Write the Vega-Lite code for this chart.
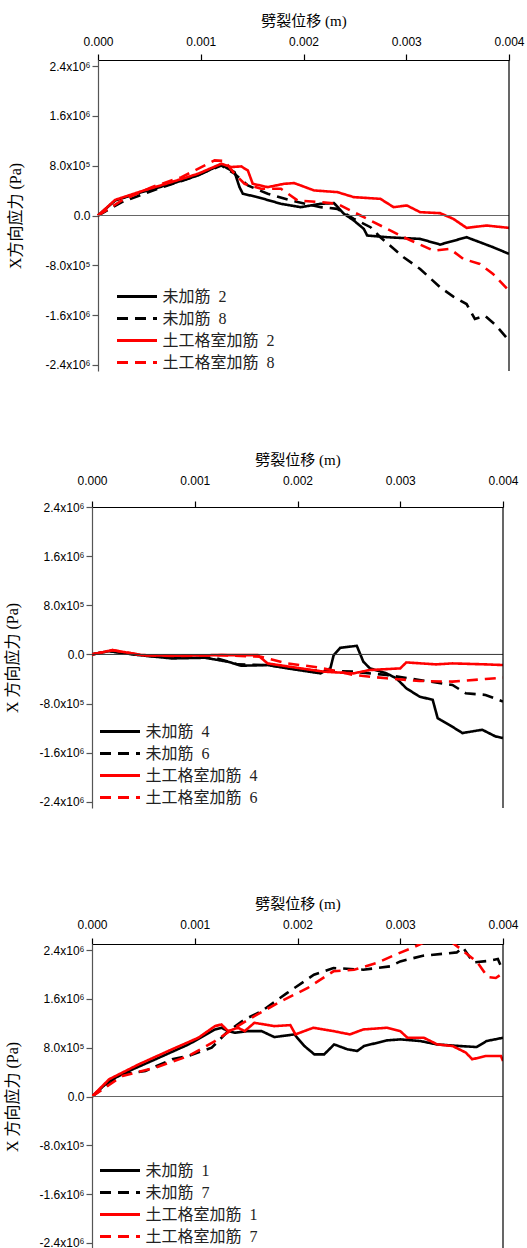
{
  "$schema": "https://vega.github.io/schema/vega-lite/v6.json",
  "background": "white",
  "padding": {"left": 4, "top": 13, "right": 0, "bottom": 0},
  "spacing": 136,
  "bounds": "flush",
  "config": {
    "view": {"stroke": null},
    "axis": {"grid": false, "labelFont": "Liberation Sans", "labelFontSize": 12, "labelColor": "#000", "titleFont": "'Liberation Serif', 'Noto Sans CJK SC'", "titleFontWeight": "normal", "titleFontSize": 15, "titleColor": "#000", "domainColor": "#000", "tickColor": "#000", "tickSize": 6, "domainWidth": 1.2, "tickWidth": 1.2},
    "legend": {"labelFont": "'Liberation Serif', 'Noto Sans CJK SC'", "labelFontSize": 16, "labelColor": "#222", "symbolType": "M-2,0H2", "symbolSize": 400, "symbolStrokeWidth": 3, "symbolOffset": 8.5, "padding": 0, "labelOffset": 14, "rowPadding": 2, "title": null, "labelLimit": 300}
  },
  "datasets": {
    "p1": [
      {"s":"未加筋 2","x":0,"y":0},{"s":"未加筋 2","x":0.000168,"y":242000},{"s":"未加筋 2","x":0.000426,"y":376000},{"s":"未加筋 2","x":0.000716,"y":510000},{"s":"未加筋 2","x":0.000974,"y":644000},{"s":"未加筋 2","x":0.0012,"y":821000},{"s":"未加筋 2","x":0.001265,"y":752000},{"s":"未加筋 2","x":0.001329,"y":698000},{"s":"未加筋 2","x":0.001377,"y":456000},{"s":"未加筋 2","x":0.00141,"y":349000},{"s":"未加筋 2","x":0.001555,"y":295000},{"s":"未加筋 2","x":0.00178,"y":188000},{"s":"未加筋 2","x":0.001974,"y":134000},{"s":"未加筋 2","x":0.002168,"y":188000},{"s":"未加筋 2","x":0.002297,"y":199000},{"s":"未加筋 2","x":0.002394,"y":27000},{"s":"未加筋 2","x":0.00249,"y":-81000},{"s":"未加筋 2","x":0.002587,"y":-215000},{"s":"未加筋 2","x":0.00262,"y":-322000},{"s":"未加筋 2","x":0.002813,"y":-349000},{"s":"未加筋 2","x":0.003135,"y":-376000},{"s":"未加筋 2","x":0.003329,"y":-467000},{"s":"未加筋 2","x":0.003587,"y":-349000},{"s":"未加筋 2","x":0.003845,"y":-510000},{"s":"未加筋 2","x":0.004,"y":-617000},
      {"s":"未加筋 8","x":0,"y":0},{"s":"未加筋 8","x":0.000232,"y":215000},{"s":"未加筋 8","x":0.000555,"y":413000},{"s":"未加筋 8","x":0.000877,"y":591000},{"s":"未加筋 8","x":0.0012,"y":805000},{"s":"未加筋 8","x":0.001329,"y":671000},{"s":"未加筋 8","x":0.001458,"y":483000},{"s":"未加筋 8","x":0.001652,"y":349000},{"s":"未加筋 8","x":0.001877,"y":242000},{"s":"未加筋 8","x":0.002168,"y":134000},{"s":"未加筋 8","x":0.002329,"y":107000},{"s":"未加筋 8","x":0.00249,"y":-54000},{"s":"未加筋 8","x":0.002652,"y":-188000},{"s":"未加筋 8","x":0.002748,"y":-349000},{"s":"未加筋 8","x":0.002974,"y":-671000},{"s":"未加筋 8","x":0.003135,"y":-859000},{"s":"未加筋 8","x":0.003329,"y":-1154000},{"s":"未加筋 8","x":0.003458,"y":-1305000},{"s":"未加筋 8","x":0.003587,"y":-1423000},{"s":"未加筋 8","x":0.003668,"y":-1664000},{"s":"未加筋 8","x":0.003765,"y":-1611000},{"s":"未加筋 8","x":0.003877,"y":-1772000},{"s":"未加筋 8","x":0.004,"y":-2013000},
      {"s":"土工格室加筋 2","x":0,"y":0},{"s":"土工格室加筋 2","x":0.000168,"y":252000},{"s":"土工格室加筋 2","x":0.000426,"y":392000},{"s":"土工格室加筋 2","x":0.000716,"y":537000},{"s":"土工格室加筋 2","x":0.000974,"y":671000},{"s":"土工格室加筋 2","x":0.0012,"y":832000},{"s":"土工格室加筋 2","x":0.001297,"y":779000},{"s":"土工格室加筋 2","x":0.001394,"y":789000},{"s":"土工格室加筋 2","x":0.001458,"y":725000},{"s":"土工格室加筋 2","x":0.001506,"y":510000},{"s":"土工格室加筋 2","x":0.001652,"y":456000},{"s":"土工格室加筋 2","x":0.001813,"y":510000},{"s":"土工格室加筋 2","x":0.00191,"y":521000},{"s":"土工格室加筋 2","x":0.002103,"y":403000},{"s":"土工格室加筋 2","x":0.002329,"y":376000},{"s":"土工格室加筋 2","x":0.00249,"y":295000},{"s":"土工格室加筋 2","x":0.002748,"y":268000},{"s":"土工格室加筋 2","x":0.002877,"y":134000},{"s":"土工格室加筋 2","x":0.003006,"y":161000},{"s":"土工格室加筋 2","x":0.003135,"y":54000},{"s":"土工格室加筋 2","x":0.003329,"y":38000},{"s":"土工格室加筋 2","x":0.003458,"y":-54000},{"s":"土工格室加筋 2","x":0.003587,"y":-199000},{"s":"土工格室加筋 2","x":0.003781,"y":-161000},{"s":"土工格室加筋 2","x":0.004,"y":-199000},
      {"s":"土工格室加筋 8","x":0,"y":0},{"s":"土工格室加筋 8","x":0.000232,"y":242000},{"s":"土工格室加筋 8","x":0.000523,"y":456000},{"s":"土工格室加筋 8","x":0.000813,"y":617000},{"s":"土工格室加筋 8","x":0.001135,"y":886000},{"s":"土工格室加筋 8","x":0.001232,"y":875000},{"s":"土工格室加筋 8","x":0.001329,"y":671000},{"s":"土工格室加筋 8","x":0.001426,"y":510000},{"s":"土工格室加筋 8","x":0.001587,"y":430000},{"s":"土工格室加筋 8","x":0.00178,"y":430000},{"s":"土工格室加筋 8","x":0.001942,"y":242000},{"s":"土工格室加筋 8","x":0.002168,"y":215000},{"s":"土工格室加筋 8","x":0.002329,"y":188000},{"s":"土工格室加筋 8","x":0.002555,"y":0},{"s":"土工格室加筋 8","x":0.002781,"y":-188000},{"s":"土工格室加筋 8","x":0.002974,"y":-349000},{"s":"土工格室加筋 8","x":0.003265,"y":-564000},{"s":"土工格室加筋 8","x":0.003426,"y":-537000},{"s":"土工格室加筋 8","x":0.003555,"y":-698000},{"s":"土工格室加筋 8","x":0.003716,"y":-779000},{"s":"土工格室加筋 8","x":0.003845,"y":-940000},{"s":"土工格室加筋 8","x":0.004,"y":-1208000}
    ],
    "p2": [
      {"s":"未加筋 4","x":0,"y":0},{"s":"未加筋 4","x":0.000167,"y":54000},{"s":"未加筋 4","x":0.000456,"y":-11000},{"s":"未加筋 4","x":0.000777,"y":-65000},{"s":"未加筋 4","x":0.001099,"y":-54000},{"s":"未加筋 4","x":0.001324,"y":-119000},{"s":"未加筋 4","x":0.001452,"y":-184000},{"s":"未加筋 4","x":0.001709,"y":-173000},{"s":"未加筋 4","x":0.001902,"y":-227000},{"s":"未加筋 4","x":0.002223,"y":-308000},{"s":"未加筋 4","x":0.00232,"y":-227000},{"s":"未加筋 4","x":0.002352,"y":-11000},{"s":"未加筋 4","x":0.002416,"y":108000},{"s":"未加筋 4","x":0.002577,"y":140000},{"s":"未加筋 4","x":0.002641,"y":-119000},{"s":"未加筋 4","x":0.002705,"y":-227000},{"s":"未加筋 4","x":0.002866,"y":-308000},{"s":"未加筋 4","x":0.002962,"y":-389000},{"s":"未加筋 4","x":0.003059,"y":-551000},{"s":"未加筋 4","x":0.003187,"y":-686000},{"s":"未加筋 4","x":0.003316,"y":-740000},{"s":"未加筋 4","x":0.003364,"y":-1037000},{"s":"未加筋 4","x":0.003476,"y":-1145000},{"s":"未加筋 4","x":0.003605,"y":-1280000},{"s":"未加筋 4","x":0.003798,"y":-1226000},{"s":"未加筋 4","x":0.003926,"y":-1334000},{"s":"未加筋 4","x":0.004,"y":-1361000},
      {"s":"未加筋 6","x":0,"y":0},{"s":"未加筋 6","x":0.000167,"y":54000},{"s":"未加筋 6","x":0.000456,"y":-11000},{"s":"未加筋 6","x":0.000777,"y":-54000},{"s":"未加筋 6","x":0.001195,"y":-54000},{"s":"未加筋 6","x":0.001421,"y":-162000},{"s":"未加筋 6","x":0.001709,"y":-173000},{"s":"未加筋 6","x":0.002063,"y":-254000},{"s":"未加筋 6","x":0.002545,"y":-281000},{"s":"未加筋 6","x":0.002866,"y":-335000},{"s":"未加筋 6","x":0.003187,"y":-416000},{"s":"未加筋 6","x":0.003508,"y":-497000},{"s":"未加筋 6","x":0.003637,"y":-632000},{"s":"未加筋 6","x":0.00383,"y":-659000},{"s":"未加筋 6","x":0.004,"y":-767000},
      {"s":"土工格室加筋 4","x":0,"y":0},{"s":"土工格室加筋 4","x":0.000199,"y":70000},{"s":"土工格室加筋 4","x":0.000488,"y":-11000},{"s":"土工格室加筋 4","x":0.00081,"y":-22000},{"s":"土工格室加筋 4","x":0.001195,"y":-11000},{"s":"土工格室加筋 4","x":0.001613,"y":-11000},{"s":"土工格室加筋 4","x":0.001709,"y":-146000},{"s":"土工格室加筋 4","x":0.002031,"y":-227000},{"s":"土工格室加筋 4","x":0.00226,"y":-281000},{"s":"土工格室加筋 4","x":0.002545,"y":-308000},{"s":"土工格室加筋 4","x":0.002705,"y":-254000},{"s":"土工格室加筋 4","x":0.003,"y":-227000},{"s":"土工格室加筋 4","x":0.003059,"y":-130000},{"s":"土工格室加筋 4","x":0.003348,"y":-162000},{"s":"土工格室加筋 4","x":0.003508,"y":-146000},{"s":"土工格室加筋 4","x":0.00383,"y":-162000},{"s":"土工格室加筋 4","x":0.004,"y":-173000},
      {"s":"土工格室加筋 6","x":0,"y":0},{"s":"土工格室加筋 6","x":0.000199,"y":70000},{"s":"土工格室加筋 6","x":0.000488,"y":-11000},{"s":"土工格室加筋 6","x":0.000842,"y":-27000},{"s":"土工格室加筋 6","x":0.00126,"y":-11000},{"s":"土工格室加筋 6","x":0.001645,"y":-38000},{"s":"土工格室加筋 6","x":0.001902,"y":-146000},{"s":"土工格室加筋 6","x":0.002223,"y":-216000},{"s":"土工格室加筋 6","x":0.002545,"y":-335000},{"s":"土工格室加筋 6","x":0.002866,"y":-389000},{"s":"土工格室加筋 6","x":0.003187,"y":-432000},{"s":"土工格室加筋 6","x":0.003508,"y":-443000},{"s":"土工格室加筋 6","x":0.00383,"y":-400000},{"s":"土工格室加筋 6","x":0.004,"y":-378000}
    ],
    "p3": [
      {"s":"未加筋 1","x":0,"y":0},{"s":"未加筋 1","x":0.000167,"y":256000},{"s":"未加筋 1","x":0.00036,"y":419000},{"s":"未加筋 1","x":0.000617,"y":610000},{"s":"未加筋 1","x":0.00094,"y":854000},{"s":"未加筋 1","x":0.001197,"y":1099000},{"s":"未加筋 1","x":0.00126,"y":1127000},{"s":"未加筋 1","x":0.001325,"y":1072000},{"s":"未加筋 1","x":0.00139,"y":1045000},{"s":"未加筋 1","x":0.001518,"y":1072000},{"s":"未加筋 1","x":0.00165,"y":1072000},{"s":"未加筋 1","x":0.001775,"y":974000},{"s":"未加筋 1","x":0.00197,"y":1018000},{"s":"未加筋 1","x":0.002067,"y":827000},{"s":"未加筋 1","x":0.002164,"y":691000},{"s":"未加筋 1","x":0.00226,"y":691000},{"s":"未加筋 1","x":0.002357,"y":854000},{"s":"未加筋 1","x":0.002486,"y":773000},{"s":"未加筋 1","x":0.002582,"y":746000},{"s":"未加筋 1","x":0.002647,"y":827000},{"s":"未加筋 1","x":0.00287,"y":920000},{"s":"未加筋 1","x":0.003,"y":936000},{"s":"未加筋 1","x":0.003196,"y":909000},{"s":"未加筋 1","x":0.003357,"y":854000},{"s":"未加筋 1","x":0.003582,"y":827000},{"s":"未加筋 1","x":0.003743,"y":811000},{"s":"未加筋 1","x":0.00384,"y":909000},{"s":"未加筋 1","x":0.004,"y":963000},
      {"s":"未加筋 7","x":0,"y":0},{"s":"未加筋 7","x":0.000296,"y":365000},{"s":"未加筋 7","x":0.00052,"y":419000},{"s":"未加筋 7","x":0.00078,"y":610000},{"s":"未加筋 7","x":0.00094,"y":664000},{"s":"未加筋 7","x":0.001165,"y":800000},{"s":"未加筋 7","x":0.001325,"y":1072000},{"s":"未加筋 7","x":0.001486,"y":1263000},{"s":"未加筋 7","x":0.00165,"y":1399000},{"s":"未加筋 7","x":0.0019,"y":1698000},{"s":"未加筋 7","x":0.00216,"y":1997000},{"s":"未加筋 7","x":0.00235,"y":2106000},{"s":"未加筋 7","x":0.00264,"y":2079000},{"s":"未加筋 7","x":0.0029,"y":2133000},{"s":"未加筋 7","x":0.003,"y":2215000},{"s":"未加筋 7","x":0.00322,"y":2307000},{"s":"未加筋 7","x":0.00355,"y":2362000},{"s":"未加筋 7","x":0.00361,"y":2444000},{"s":"未加筋 7","x":0.00371,"y":2198000},{"s":"未加筋 7","x":0.00387,"y":2225000},{"s":"未加筋 7","x":0.00395,"y":2253000},{"s":"未加筋 7","x":0.004,"y":2060000},
      {"s":"土工格室加筋 1","x":0,"y":0},{"s":"土工格室加筋 1","x":0.000167,"y":283000},{"s":"土工格室加筋 1","x":0.000456,"y":528000},{"s":"土工格室加筋 1","x":0.000778,"y":773000},{"s":"土工格室加筋 1","x":0.001035,"y":963000},{"s":"土工格室加筋 1","x":0.001197,"y":1154000},{"s":"土工格室加筋 1","x":0.00126,"y":1181000},{"s":"土工格室加筋 1","x":0.001325,"y":1072000},{"s":"土工格室加筋 1","x":0.00142,"y":1127000},{"s":"土工格室加筋 1","x":0.001486,"y":1072000},{"s":"土工格室加筋 1","x":0.00158,"y":1208000},{"s":"土工格室加筋 1","x":0.001775,"y":1154000},{"s":"土工格室加筋 1","x":0.00193,"y":1170000},{"s":"土工格室加筋 1","x":0.00198,"y":1018000},{"s":"土工格室加筋 1","x":0.002154,"y":1127000},{"s":"土工格室加筋 1","x":0.00235,"y":1072000},{"s":"土工格室加筋 1","x":0.00251,"y":1018000},{"s":"土工格室加筋 1","x":0.00264,"y":1099000},{"s":"土工格室加筋 1","x":0.00287,"y":1127000},{"s":"土工格室加筋 1","x":0.003,"y":1072000},{"s":"土工格室加筋 1","x":0.00307,"y":963000},{"s":"土工格室加筋 1","x":0.00323,"y":963000},{"s":"土工格室加筋 1","x":0.00336,"y":854000},{"s":"土工格室加筋 1","x":0.00351,"y":827000},{"s":"土工格室加筋 1","x":0.00364,"y":718000},{"s":"土工格室加筋 1","x":0.0037,"y":610000},{"s":"土工格室加筋 1","x":0.00383,"y":664000},{"s":"土工格室加筋 1","x":0.00398,"y":664000},{"s":"土工格室加筋 1","x":0.004,"y":582000},
      {"s":"土工格室加筋 7","x":0,"y":0},{"s":"土工格室加筋 7","x":0.000296,"y":337000},{"s":"土工格室加筋 7","x":0.000617,"y":473000},{"s":"土工格室加筋 7","x":0.00094,"y":664000},{"s":"土工格室加筋 7","x":0.001197,"y":909000},{"s":"土工格室加筋 7","x":0.00139,"y":1127000},{"s":"土工格室加筋 7","x":0.00158,"y":1317000},{"s":"土工格室加筋 7","x":0.00184,"y":1562000},{"s":"土工格室加筋 7","x":0.0021,"y":1780000},{"s":"土工格室加筋 7","x":0.00235,"y":2052000},{"s":"土工格室加筋 7","x":0.00255,"y":2079000},{"s":"土工格室加筋 7","x":0.00277,"y":2188000},{"s":"土工格室加筋 7","x":0.00296,"y":2330000},{"s":"土工格室加筋 7","x":0.00312,"y":2440000},{"s":"土工格室加筋 7","x":0.00325,"y":2540000},{"s":"土工格室加筋 7","x":0.0035,"y":2530000},{"s":"土工格室加筋 7","x":0.00361,"y":2390000},{"s":"土工格室加筋 7","x":0.00375,"y":2200000},{"s":"土工格室加筋 7","x":0.00385,"y":1960000},{"s":"土工格室加筋 7","x":0.00393,"y":1943000},{"s":"土工格室加筋 7","x":0.004,"y":2024000}
    ]
  },
  "resolve": {"scale": {"color": "independent", "strokeDash": "independent"}},
  "vconcat": [
    {
      "width": 417, "height": 311,
      "layer": [
        {
          "data": {"name": "p1"},
          "mark": {"type": "line", "strokeWidth": 2.6, "clip": true},
          "encoding": {
            "x": {"field": "x", "type": "quantitative", "scale": {"domain": [0, 0.004], "nice": false, "rangeMin": 6}, "axis": {"orient": "top", "title": "劈裂位移 (m)", "values": [0, 0.001, 0.002, 0.003, 0.004], "format": ".3f", "labelPadding": 5.5, "titlePadding": 7, "labelFlush": false}},
            "y": {"field": "y", "type": "quantitative", "scale": {"domain": [-2500000, 2500000], "nice": false}, "axis": {"title": "X方向应力 (Pa)", "offset": -6, "values": [-2400000, -1600000, -800000, 0, 800000, 1600000, 2400000], "labelExpr": "datum.value == 0 ? '0.0' : (datum.value < 0 ? '-' : '') + format(abs(datum.value) >= 1000000 ? abs(datum.value)/1000000 : abs(datum.value)/100000, '.1f') + (abs(datum.value) >= 1000000 ? 'x10⁶' : 'x10⁵')", "domainColor": "#555", "tickColor": "#555", "labelPadding": 2, "titleX": -83, "titleBaseline": "middle", "titleFontSize": 16}},
            "color": {"field": "s", "type": "nominal", "scale": {"domain": ["未加筋 2", "未加筋 8", "土工格室加筋 2", "土工格室加筋 8"], "range": ["#000000", "#000000", "#ff0000", "#ff0000"]}, "legend": {"orient": "none", "legendX": 25, "legendY": 225, "labelExpr": "replace(datum.label, ' ', '\u2002')", "encode": {"symbols": {"update": {"strokeDash": {"signal": "indexof('678', slice(datum.value, -1)) >= 0 ? [11, 18] : [1, 0]"}}}}}},
            "strokeDash": {"field": "s", "type": "nominal", "scale": {"domain": ["未加筋 2", "未加筋 8", "土工格室加筋 2", "土工格室加筋 8"], "range": [[1, 0], [11, 7], [1, 0], [11, 7]]}, "legend": {"encode": {"symbols": {"update": {"strokeDash": {"signal": "indexof('678', slice(datum.value, -1)) >= 0 ? [11, 18] : [1, 0]"}}}}}}
          }
        },
        {
          "data": {"values": [{}]},
          "mark": {"type": "rule", "color": "#666", "strokeWidth": 1},
          "encoding": {"x": {"datum": 0}, "x2": {"datum": 0.004}, "y": {"datum": 0}}
        },
        {
          "data": {"values": [{}]},
          "mark": {"type": "rule", "color": "#000", "strokeWidth": 1.2},
          "encoding": {"x": {"datum": 0.004}}
        }
      ]
    },
    {
      "width": 411, "height": 301,
      "layer": [
        {
          "data": {"name": "p2"},
          "mark": {"type": "line", "strokeWidth": 2.6, "clip": true},
          "encoding": {
            "x": {"field": "x", "type": "quantitative", "scale": {"domain": [0, 0.004], "nice": false}, "axis": {"orient": "top", "title": "劈裂位移 (m)", "values": [0, 0.001, 0.002, 0.003, 0.004], "format": ".3f", "labelPadding": 13.5, "titlePadding": 7.5, "labelFlush": false}},
            "y": {"field": "y", "type": "quantitative", "scale": {"domain": [-2500000, 2400000], "nice": false}, "axis": {"title": "X 方向应力 (Pa)", "values": [-2400000, -1600000, -800000, 0, 800000, 1600000, 2400000], "labelExpr": "datum.value == 0 ? '0.0' : (datum.value < 0 ? '-' : '') + format(abs(datum.value) >= 1000000 ? abs(datum.value)/1000000 : abs(datum.value)/100000, '.1f') + (abs(datum.value) >= 1000000 ? 'x10⁶' : 'x10⁵')", "domainColor": "#555", "tickColor": "#555", "labelPadding": 2, "titleX": -80, "titleBaseline": "middle", "titleFontSize": 16}},
            "color": {"field": "s", "type": "nominal", "scale": {"domain": ["未加筋 4", "未加筋 6", "土工格室加筋 4", "土工格室加筋 6"], "range": ["#000000", "#000000", "#ff0000", "#ff0000"]}, "legend": {"orient": "none", "legendX": 8, "legendY": 213, "labelExpr": "replace(datum.label, ' ', '\u2002')", "encode": {"symbols": {"update": {"strokeDash": {"signal": "indexof('678', slice(datum.value, -1)) >= 0 ? [11, 18] : [1, 0]"}}}}}},
            "strokeDash": {"field": "s", "type": "nominal", "scale": {"domain": ["未加筋 4", "未加筋 6", "土工格室加筋 4", "土工格室加筋 6"], "range": [[1, 0], [11, 7], [1, 0], [11, 7]]}, "legend": {"encode": {"symbols": {"update": {"strokeDash": {"signal": "indexof('678', slice(datum.value, -1)) >= 0 ? [11, 18] : [1, 0]"}}}}}}
          }
        },
        {
          "data": {"values": [{}]},
          "mark": {"type": "rule", "color": "#333", "strokeWidth": 1},
          "encoding": {"x": {"datum": 0}, "x2": {"datum": 0.004}, "y": {"datum": 0}}
        },
        {
          "data": {"values": [{}]},
          "mark": {"type": "rule", "color": "#000", "strokeWidth": 1.2},
          "encoding": {"x": {"datum": 0.004}}
        }
      ]
    },
    {
      "width": 411, "height": 305,
      "layer": [
        {
          "data": {"name": "p3"},
          "mark": {"type": "line", "strokeWidth": 2.6, "clip": true},
          "encoding": {
            "x": {"field": "x", "type": "quantitative", "scale": {"domain": [0, 0.004], "nice": false}, "axis": {"orient": "top", "title": "劈裂位移 (m)", "values": [0, 0.001, 0.002, 0.003, 0.004], "format": ".3f", "labelPadding": 6.5, "titlePadding": 7, "labelFlush": false}},
            "y": {"field": "y", "type": "quantitative", "scale": {"domain": [-2500000, 2500000], "nice": false}, "axis": {"title": "X 方向应力 (Pa)", "values": [-2400000, -1600000, -800000, 0, 800000, 1600000, 2400000], "labelExpr": "datum.value == 0 ? '0.0' : (datum.value < 0 ? '-' : '') + format(abs(datum.value) >= 1000000 ? abs(datum.value)/1000000 : abs(datum.value)/100000, '.1f') + (abs(datum.value) >= 1000000 ? 'x10⁶' : 'x10⁵')", "domainColor": "#555", "tickColor": "#555", "labelPadding": 2, "titleX": -80, "titleBaseline": "middle", "titleFontSize": 16}},
            "color": {"field": "s", "type": "nominal", "scale": {"domain": ["未加筋 1", "未加筋 7", "土工格室加筋 1", "土工格室加筋 7"], "range": ["#000000", "#000000", "#ff0000", "#ff0000"]}, "legend": {"orient": "none", "legendX": 8, "legendY": 215, "labelExpr": "replace(datum.label, ' ', '\u2002')", "encode": {"symbols": {"update": {"strokeDash": {"signal": "indexof('678', slice(datum.value, -1)) >= 0 ? [11, 18] : [1, 0]"}}}}}},
            "strokeDash": {"field": "s", "type": "nominal", "scale": {"domain": ["未加筋 1", "未加筋 7", "土工格室加筋 1", "土工格室加筋 7"], "range": [[1, 0], [11, 7], [1, 0], [11, 7]]}, "legend": {"encode": {"symbols": {"update": {"strokeDash": {"signal": "indexof('678', slice(datum.value, -1)) >= 0 ? [11, 18] : [1, 0]"}}}}}}
          }
        },
        {
          "data": {"values": [{}]},
          "mark": {"type": "rule", "color": "#666", "strokeWidth": 1},
          "encoding": {"x": {"datum": 0}, "x2": {"datum": 0.004}, "y": {"datum": 0}}
        },
        {
          "data": {"values": [{}]},
          "mark": {"type": "rule", "color": "#000", "strokeWidth": 1.2},
          "encoding": {"x": {"datum": 0.004}}
        }
      ]
    }
  ]
}
